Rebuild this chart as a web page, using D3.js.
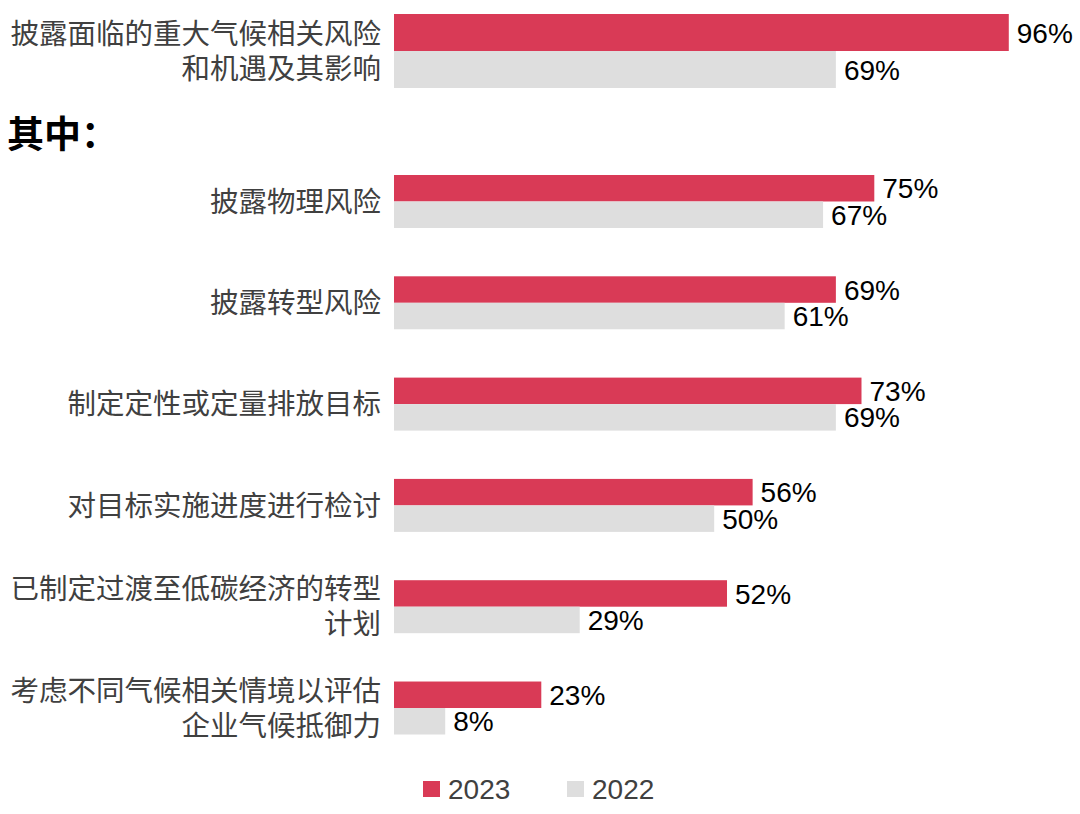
<!DOCTYPE html>
<html>
<head>
<meta charset="utf-8">
<script src="https://cdn.jsdelivr.net/npm/d3@7"></script>
<style>
  html, body { margin: 0; padding: 0; background: #ffffff; }
  svg { display: block; }
</style>
</head>
<body>
<svg id="chart" width="1080" height="814"></svg>
<script>
// ---- Data ----
const categories = [
  "披露面临的重大气候相关风险和机遇及其影响",
  "披露物理风险",
  "披露转型风险",
  "制定定性或定量排放目标",
  "对目标实施进度进行检讨",
  "已制定过渡至低碳经济的转型计划",
  "考虑不同气候相关情境以评估企业气候抵御力"
];
const labelLines = [
  ["披露面临的重大气候相关风险", "和机遇及其影响"],
  ["披露物理风险"],
  ["披露转型风险"],
  ["制定定性或定量排放目标"],
  ["对目标实施进度进行检讨"],
  ["已制定过渡至低碳经济的转型", "计划"],
  ["考虑不同气候相关情境以评估", "企业气候抵御力"]
];
const series = ["2023", "2022"];
const values2023 = [96, 75, 69, 73, 56, 52, 23];
const values2022 = [69, 67, 61, 69, 50, 29, 8];
const subHeading = "其中：";

const colors = { "2023": "#d93a56", "2022": "#dedede" };

const rows = categories.map((c, i) => ({
  cat: c, lines: labelLines[i],
  vals: { "2023": values2023[i], "2022": values2022[i] }
}));

const svg = d3.select("#chart");

// ---- Scales ----
const x = d3.scaleLinear().domain([0, 100]).range([394, 1034.4]);

const yTop = d3.scaleBand().domain([categories[0]]).range([14, 88]).padding(0);
const yRest = d3.scaleBand().domain(categories.slice(1)).range([175, 734.5])
  .paddingInner(0.477).paddingOuter(0);

function groupY(c) { return c === categories[0] ? yTop(c) : yRest(c); }
function groupH(c) { return c === categories[0] ? yTop.bandwidth() : yRest.bandwidth(); }

const labelFont = "'Noto Sans CJK SC', 'Noto Sans', sans-serif";
const numFont = "'Liberation Sans', Arial, sans-serif";

// ---- Bars ----
const g = svg.append("g");
rows.forEach(r => {
  const sub = d3.scaleBand().domain(series).range([groupY(r.cat), groupY(r.cat) + groupH(r.cat)]);
  series.forEach(s => {
    g.append("rect")
      .attr("x", x(0))
      .attr("y", sub(s))
      .attr("width", x(r.vals[s]) - x(0))
      .attr("height", sub.bandwidth())
      .attr("fill", colors[s]);
    g.append("text")
      .attr("x", x(r.vals[s]) + 8)
      .attr("y", sub(s) + sub.bandwidth() / 2)
      .attr("dy", "0.36em")
      .attr("font-family", numFont)
      .attr("font-size", 28)
      .attr("fill", "#000")
      .text(r.vals[s] + "%");
  });
  // category label
  const cy = groupY(r.cat) + groupH(r.cat) / 2;
  const n = r.lines.length;
  const lh = 35;
  r.lines.forEach((ln, k) => {
    g.append("text")
      .attr("x", 381)
      .attr("y", cy + (k - (n - 1) / 2) * lh)
      .attr("dy", "0.36em")
      .attr("text-anchor", "end")
      .attr("font-family", labelFont)
      .attr("font-size", 28.5)
      .attr("fill", "#404040")
      .text(ln);
  });
});

// ---- Sub heading ----
svg.append("text")
  .attr("x", 7)
  .attr("y", 135)
  .attr("dy", "0.36em")
  .attr("font-family", labelFont)
  .attr("font-weight", "bold")
  .attr("font-size", 37)
  .attr("fill", "#000")
  .text(subHeading);

// ---- Legend ----
const legendX = d3.scaleOrdinal().domain(series).range([423, 567]);
const leg = svg.append("g");
series.forEach(s => {
  leg.append("rect")
    .attr("x", legendX(s))
    .attr("y", 781)
    .attr("width", 17)
    .attr("height", 16)
    .attr("fill", colors[s]);
  leg.append("text")
    .attr("x", legendX(s) + 25)
    .attr("y", 789)
    .attr("dy", "0.36em")
    .attr("font-family", numFont)
    .attr("font-size", 28)
    .attr("fill", "#404040")
    .text(s);
});
</script>
</body>
</html>
